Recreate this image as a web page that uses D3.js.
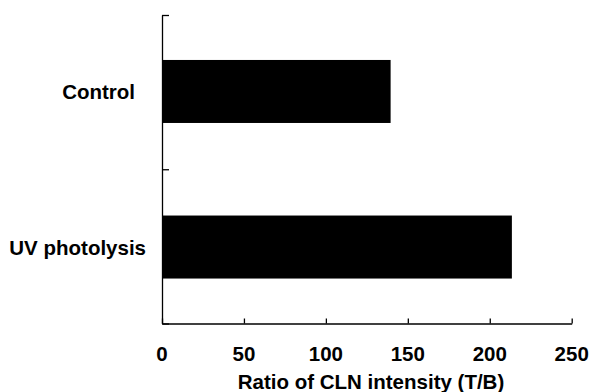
<!DOCTYPE html>
<html>
<head>
<meta charset="utf-8">
<script src="https://cdn.jsdelivr.net/npm/d3@7"></script>
<style>
  html, body { margin: 0; padding: 0; background: #fff; }
  svg { display: block; }
  text { font-family: "Liberation Sans", Arial, Helvetica, sans-serif; font-weight: bold; fill: #000; }
</style>
</head>
<body>
<svg id="chart" width="591" height="392"></svg>
<script>
const categories = ["Control", "UV photolysis"];
const values = [139.5, 213.5];
const xTicks = [0, 50, 100, 150, 200, 250];
const xTitle = "Ratio of CLN intensity (T/B)";

const svg = d3.select("#chart");
const mLeft = 162, mRight = 571.7, mTop = 15, mBottom = 323.5;
const fs = 20.5;

const x = d3.scaleLinear().domain([0, 250]).range([mLeft, mRight]);
const y = d3.scaleBand().domain(categories).range([mTop, mBottom])
  .paddingInner(0.595).paddingOuter(0.289);

// bars
svg.selectAll("rect.bar").data(categories).join("rect")
  .attr("class", "bar")
  .attr("x", x(0))
  .attr("y", d => y(d))
  .attr("width", (d, i) => x(values[i]) - x(0))
  .attr("height", y.bandwidth())
  .attr("fill", "#000");

// left axis: band boundaries
const yb = d3.scaleLinear().domain([0, categories.length]).range([mTop, mBottom]);
const gy = svg.append("g").attr("transform", `translate(${mLeft},0)`)
  .call(d3.axisLeft(yb).ticks(categories.length).tickSizeInner(-7).tickSizeOuter(0).tickFormat(""));
gy.select(".domain").attr("stroke", "#000").attr("stroke-width", 1.3);
gy.selectAll(".tick line").attr("stroke", "#000").attr("stroke-width", 1.3);

// bottom axis
const gx = svg.append("g").attr("transform", `translate(0,${mBottom})`)
  .call(d3.axisBottom(x).tickValues(xTicks).tickSizeInner(-5).tickSizeOuter(0).tickFormat(""));
gx.select(".domain").attr("stroke", "#000").attr("stroke-width", 1.3);
gx.selectAll(".tick line").attr("stroke", "#000").attr("stroke-width", 1.3);

// tick labels
svg.selectAll("text.xl").data(xTicks).join("text")
  .attr("class", "xl")
  .attr("x", d => x(d))
  .attr("y", 360.5)
  .attr("text-anchor", "middle")
  .attr("font-size", fs)
  .text(d => d);

// category labels
const labelRight = [135, 146];
svg.selectAll("text.cl").data(categories).join("text")
  .attr("class", "cl")
  .attr("x", (d, i) => labelRight[i])
  .attr("y", d => y(d) + y.bandwidth() / 2 + 7.5)
  .attr("text-anchor", "end")
  .attr("font-size", fs)
  .text(d => d);

// axis title
svg.append("text")
  .attr("x", 371)
  .attr("y", 389)
  .attr("text-anchor", "middle")
  .attr("font-size", fs)
  .text(xTitle);
</script>
</body>
</html>
